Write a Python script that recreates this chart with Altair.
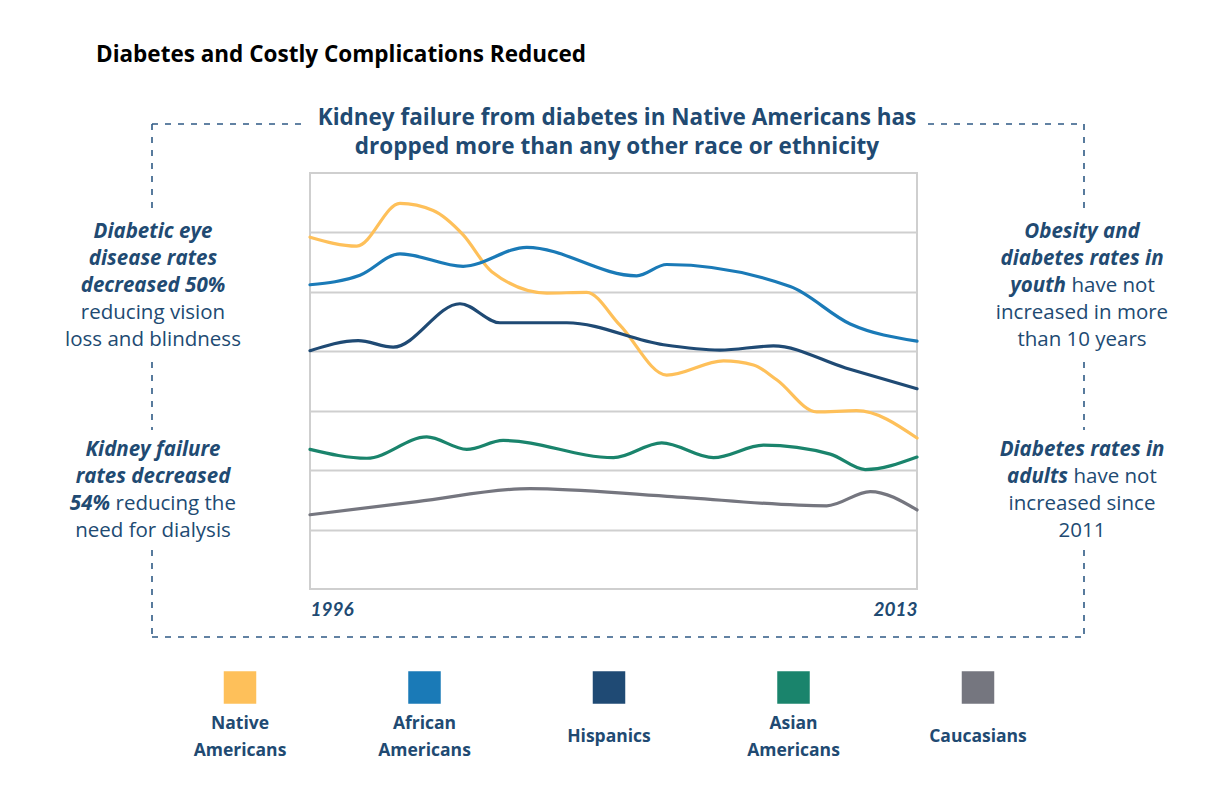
import altair as alt
import pandas as pd

# ---------------- data ----------------
groups = ["Native Americans", "African Americans", "Hispanics", "Asian Americans", "Caucasians"]
colors = ["#FEC05A", "#1A7AB7", "#1F4A74", "#1A846C", "#75767F"]
legend_line1 = ["Native", "African", "Hispanics", "Asian", "Caucasians"]
legend_line2 = ["Americans", "Americans", "", "Americans", ""]

native_x = [1996.0, 1997.31, 1998.52, 1999.45, 2000.29, 2001.09, 2002.63, 2003.75, 2004.68, 2005.99, 2007.58, 2008.42, 2009.07, 2010.19, 2011.31, 2013.0]
native_y = [5.92, 5.77, 6.49, 6.37, 5.96, 5.34, 4.98, 4.99, 4.44, 3.60, 3.84, 3.77, 3.52, 2.98, 3.00, 2.54]

african_x = [1996.0, 1997.40, 1998.52, 2000.29, 2002.07, 2005.15, 2005.99, 2009.45, 2011.13, 2013.0]
african_y = [5.12, 5.28, 5.64, 5.43, 5.75, 5.27, 5.46, 5.09, 4.46, 4.17]

hisp_x = [1996.0, 1997.35, 1998.33, 2000.20, 2001.32, 2003.19, 2005.90, 2007.48, 2008.98, 2011.0, 2013.0]
hisp_y = [4.01, 4.18, 4.07, 4.80, 4.48, 4.48, 4.11, 4.02, 4.09, 3.72, 3.37]

asian_x = [1996.0, 1997.59, 1999.27, 2000.39, 2001.41, 2004.50, 2005.85, 2007.30, 2008.70, 2010.57, 2011.55, 2013.0]
asian_y = [2.35, 2.20, 2.56, 2.35, 2.50, 2.21, 2.46, 2.21, 2.42, 2.27, 2.01, 2.22]

cauc_x = [1996.0, 1999.0, 2002.16, 2006.0, 2010.47, 2011.69, 2013.0]
cauc_y = [1.25, 1.47, 1.69, 1.56, 1.40, 1.64, 1.33]

x_ticks = [1996, 2013]
grid_values = [1, 2, 3, 4, 5, 6]

rows = []
for g, xs, ys in zip(groups,
                     [native_x, african_x, hisp_x, asian_x, cauc_x],
                     [native_y, african_y, hisp_y, asian_y, cauc_y]):
    for xv, yv in zip(xs, ys):
        rows.append({"group": g, "year": xv, "value": yv})
df = pd.DataFrame(rows)
legend_df = pd.DataFrame({"group": groups, "l1": legend_line1, "l2": legend_line2})
legend_df["two"] = legend_df["l2"] != ""
dummy = pd.DataFrame({"d": [0]})

NAVY = "#214A72"
FONT = "Open Sans"
DASH = "#2F5A85"
BODY = 20.5

color_scale = alt.Scale(domain=groups, range=colors)

lines = alt.Chart(df).mark_line(interpolate="monotone", strokeWidth=3.2, strokeCap="round").encode(
    x=alt.X("year:Q",
            scale=alt.Scale(domain=[1996, 2013], nice=False, zero=False),
            axis=alt.Axis(values=x_ticks, format="d", title=None, labelFlush=True, ticks=False,
                          domain=False, grid=False, labelFont="Lato", labelFontSize=19,
                          labelFontWeight="bold", labelFontStyle="italic", labelColor=NAVY,
                          labelBaseline="alphabetic", labelPadding=26)),
    y=alt.Y("value:Q",
            scale=alt.Scale(domain=[0, 7], nice=False, zero=True),
            axis=alt.Axis(values=grid_values, labels=False, ticks=False, domain=False, title=None,
                          grid=True, gridColor="#CFCFCF", gridWidth=2)),
    color=alt.Color("group:N", scale=color_scale, legend=None),
)

leg_x_scale = alt.Scale(type="point", domain=groups, range=[-70, 668], padding=0)
leg_x = alt.X("group:N", sort=groups, scale=leg_x_scale, axis=None)

squares = alt.Chart(legend_df).mark_square(size=1056, opacity=1).encode(
    x=leg_x,
    y=alt.value(514.5),
    color=alt.Color("group:N", scale=color_scale, legend=None),
)


def leg_text(field, cond, y):
    return alt.Chart(legend_df).transform_filter(cond).mark_text(
        baseline="middle", align="center", font=FONT, fontSize=17.5, fontWeight="bold", color=NAVY,
    ).encode(x=leg_x, y=alt.value(y), text=f"{field}:N")


leg_layers = [
    leg_text("l1", "datum.two", 551),
    leg_text("l2", "datum.two", 578),
    leg_text("l1", "!datum.two", 564),
]


def hrule(x1, x2, y):
    return alt.Chart(dummy).mark_rule(color=DASH, strokeWidth=1.6, strokeDash=[6, 7]).encode(
        x=alt.value(x1), x2=alt.value(x2), y=alt.value(y))


def vrule(x, y1, y2):
    return alt.Chart(dummy).mark_rule(color=DASH, strokeWidth=1.6, strokeDash=[6, 7]).encode(
        x=alt.value(x), y=alt.value(y1), y2=alt.value(y2))


def txt(s, x, y, align="center", bold=False, italic=False, size=BODY, color=NAVY):
    return alt.Chart(dummy).mark_text(
        text=s, align=align, baseline="alphabetic", font=FONT, fontSize=size,
        fontWeight="bold" if bold else "normal",
        fontStyle="italic" if italic else "normal", color=color,
    ).encode(x=alt.value(x), y=alt.value(y))


L, R, T, B = -158, 774, -49, 464
frame = [
    hrule(L, -2, T), hrule(618, R, T), hrule(L, R, B),
    vrule(L, T, 39), vrule(L, 189, 257), vrule(L, 377, B),
    vrule(R, T, 39), vrule(R, 189, 257), vrule(R, 377, B),
]

texts = [
    txt("Diabetes and Costly Complications Reduced", -214, -111, align="left", bold=True, size=22.5, color="#000000"),
    txt("Kidney failure from diabetes in Native Americans has", 307, -48, bold=True, size=22.5),
    txt("dropped more than any other race or ethnicity", 307, -19, bold=True, size=22.5),
    # left block 1
    txt("Diabetic eye", -157, 65, bold=True, italic=True),
    txt("disease rates", -157, 92, bold=True, italic=True),
    txt("decreased 50%", -157, 119, bold=True, italic=True),
    txt("reducing vision", -157, 146),
    txt("loss and blindness", -157, 173),
    # left block 2
    txt("Kidney failure", -157, 283, bold=True, italic=True),
    txt("rates decreased", -157, 310, bold=True, italic=True),
    txt("54%", -200, 337, align="right", bold=True, italic=True),
    txt("reducing the", -194.5, 337, align="left"),
    txt("need for dialysis", -157, 364),
    # right block 1
    txt("Obesity and", 772, 65, bold=True, italic=True),
    txt("diabetes rates in", 772, 92, bold=True, italic=True),
    txt("youth", 756, 119, align="right", bold=True, italic=True),
    txt("have not", 761.5, 119, align="left"),
    txt("increased in more", 772, 146),
    txt("than 10 years", 772, 173),
    # right block 2
    txt("Diabetes rates in", 772, 283, bold=True, italic=True),
    txt("adults", 758, 310, align="right", bold=True, italic=True),
    txt("have not", 763.5, 310, align="left"),
    txt("increased since", 772, 337),
    txt("2011", 772, 364),
]

chart = alt.layer(lines, squares, *leg_layers, *frame, *texts).resolve_scale(
    x="independent"
).properties(
    width=607, height=416,
    padding={"left": 302, "top": 165, "right": 300, "bottom": 185},
    autosize=alt.AutoSizeParams(type="none"),
    background="white",
).configure_view(stroke="#CFCFCF", strokeWidth=2)

chart.save("out.html", embed_options={"renderer": "svg", "actions": False})
